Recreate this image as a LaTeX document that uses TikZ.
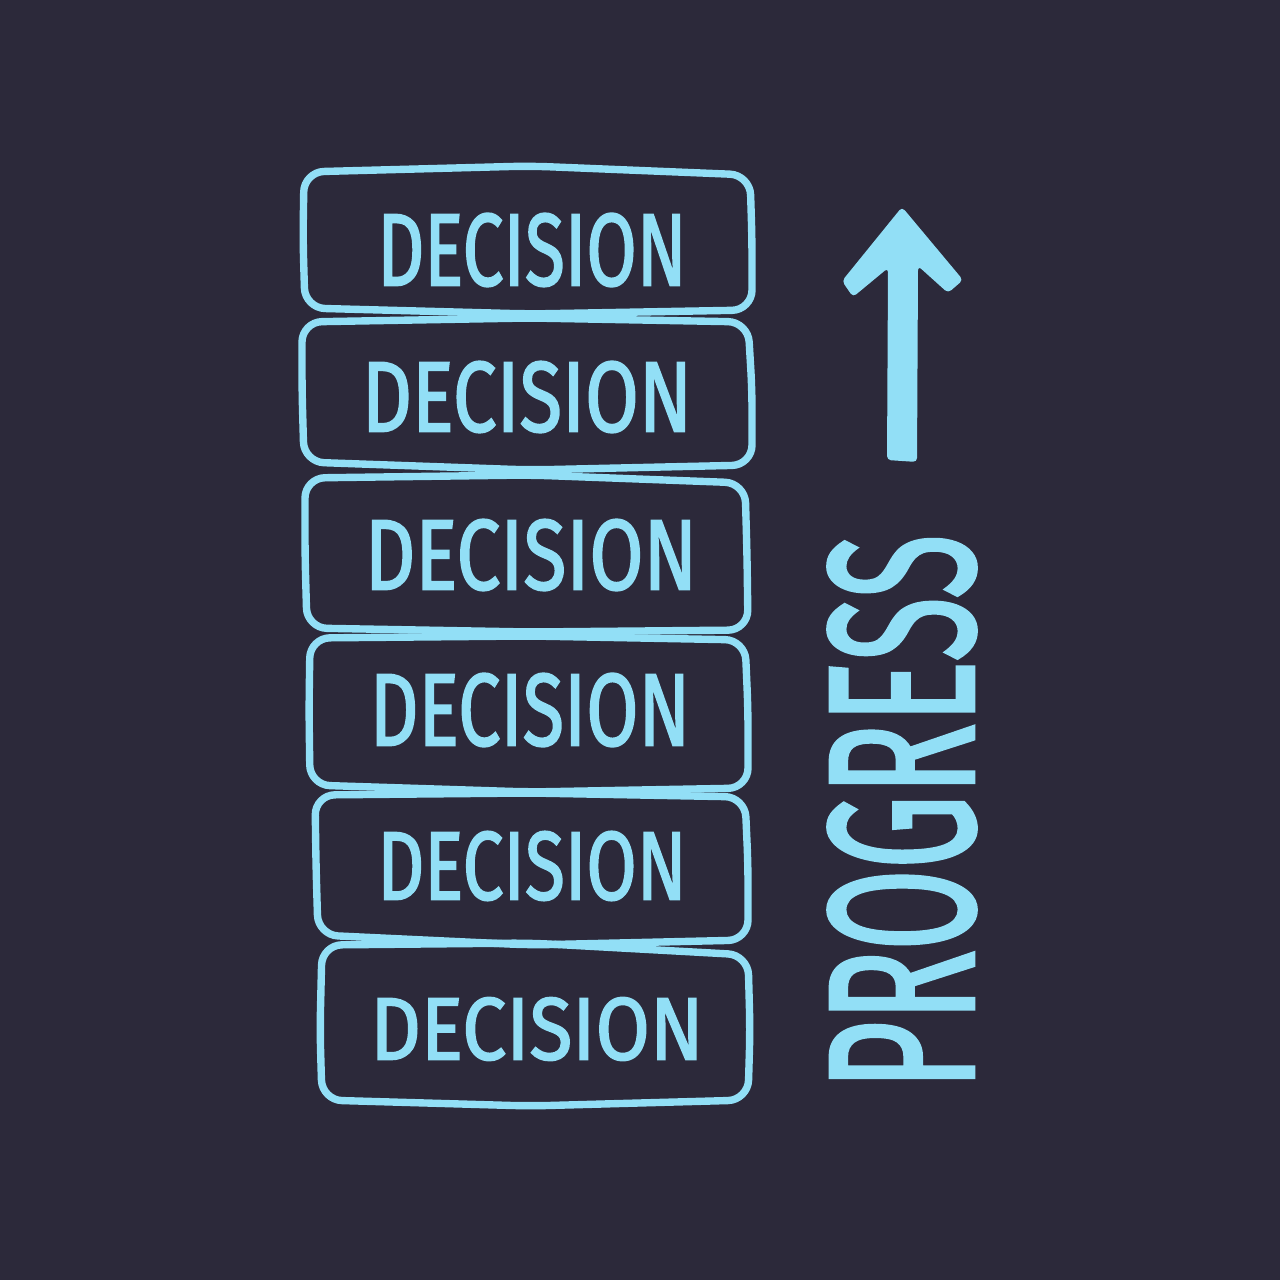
\documentclass[tikz,border=0pt]{standalone}
\usepackage{fontspec}
\usepackage{graphicx}
\setmainfont{Fira Sans}
\newfontfamily\chalkfont[FakeBold=2]{Fira Sans}
\definecolor{bgc}{HTML}{2C293A}
\definecolor{chalk}{HTML}{92DFF6}
\tikzset{
  box/.style={draw=chalk, line width=2.1pt, rounded corners=0.2cm, line join=round},
  lbl/.style={inner sep=0pt, text=chalk, anchor=center},
}
\newcommand{\dec}[2]{\resizebox{#1cm}{#2cm}{\chalkfont DECISION}}
\begin{document}
\begin{tikzpicture}[x=0.01cm,y=-0.01cm]
\fill[bgc] (0,0) rectangle (1280,1280);
\useasboundingbox (0,0) rectangle (1280,1280);
% boxes
\draw[box] (304,172) -- (530,166) -- (750,175) -- (752,240) -- (752,310) -- (530,314) -- (305,308) -- (303,240) -- cycle;
\draw[box] (302,322) -- (530,318) -- (748,322) -- (752,390) -- (752,465) -- (530,470) -- (304,462) -- (302,390) -- cycle;
\draw[box] (305,478) -- (530,475) -- (745,483) -- (747,555) -- (748,630) -- (530,632) -- (307,628) -- (305,555) -- cycle;
\draw[box] (310,638) -- (530,636) -- (745,640) -- (748,710) -- (748,788) -- (530,792) -- (310,785) -- (309,710) -- cycle;
\draw[box] (315,795) -- (530,793) -- (745,797) -- (748,865) -- (748,940) -- (530,945) -- (318,935) -- (316,865) -- cycle;
\draw[box] (322,945) -- (530,943) -- (748,955) -- (750,1030) -- (748,1100) -- (530,1106) -- (322,1100) -- (320,1030) -- cycle;
% labels
\node[lbl] (d1) at (532,250) {\dec{3.09}{0.72}};
\node[lbl] (d2) at (527,397) {\dec{3.30}{0.70}};
\node[lbl] (d3) at (531,555) {\dec{3.32}{0.70}};
\node[lbl] (d4) at (530,710) {\dec{3.20}{0.72}};
\node[lbl] (d5) at (532,866) {\dec{3.09}{0.68}};
\node[lbl] (d6) at (537,1029) {\dec{3.33}{0.62}};
% arrow
\fill[chalk, rounded corners=0.04cm] (902,207) -- (963,280) -- (948,293) -- (918,266) -- (917,462) -- (887,460) -- (888,268) -- (853,297) -- (842,281) -- cycle;
% progress
\node[lbl] (prog) at (902,812) {\rotatebox{90}{\resizebox{5.55cm}{1.45cm}{\chalkfont PROGRESS}}};
\end{tikzpicture}
\end{document}
